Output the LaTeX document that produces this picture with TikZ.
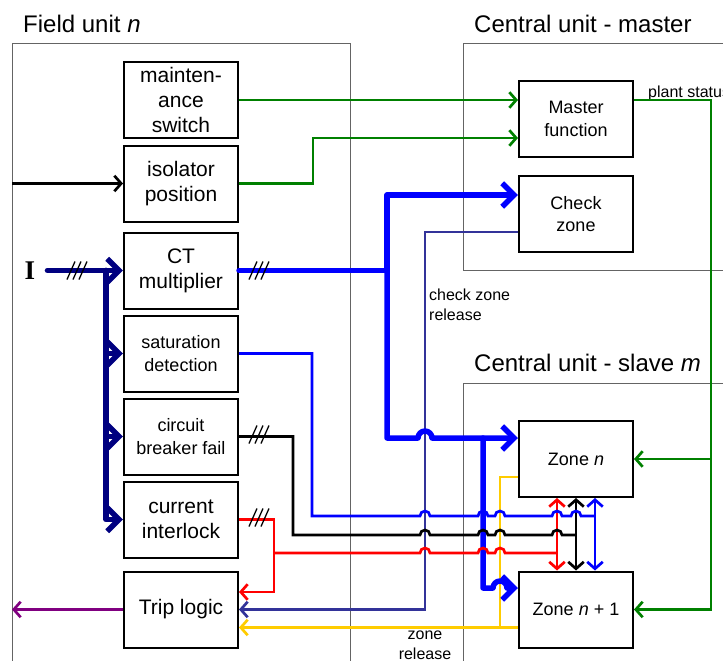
\documentclass[tikz,border=0pt]{standalone}
\usepackage{fontspec}
\setmainfont{Liberation Sans}
\newfontfamily\serifbold{Liberation Serif}
\usetikzlibrary{arrows.meta,calc}
\definecolor{grn}{RGB}{0,128,0}
\definecolor{blu}{RGB}{0,0,255}
\definecolor{nvy}{RGB}{0,0,128}
\definecolor{czr}{RGB}{51,51,153}
\definecolor{yel}{RGB}{255,204,0}
\definecolor{prp}{RGB}{128,0,128}
\definecolor{framegray}{RGB}{100,100,100}
\newcommand{\hop}[2]{-- ($(#2)+(-#1,0)$) arc[start angle=180,end angle=0,radius=#1pt]}

\begin{document}
\begin{tikzpicture}[x=1pt,y=-1pt,>={Straight Barb[length=2pt 1.8,width=8pt 2.8]},
  box/.style={draw,line width=2pt,minimum width=114pt,minimum height=76pt,inner sep=0pt,align=center,font=\fontsize{21}{25}\selectfont},
  smallbox/.style={box,font=\fontsize{18}{22.5}\selectfont},
  unitframe/.style={draw=framegray,line width=1pt},
  unittitle/.style={font=\fontsize{24}{28}\selectfont,inner sep=0pt,anchor=base west},
  lbl/.style={font=\fontsize{16}{20}\selectfont,inner sep=0pt,align=left},
  sig/.style={line width=2.7pt},
  fat/.style={line width=5.5pt,line cap=round,line join=round},
  bundle/.pic={\foreach \d in {-6,0,6} \draw[line width=1.3pt] (\d-4,9) -- (\d+4,-9);}]
\useasboundingbox (0,0) rectangle (723,661);
\draw[unitframe] (12,661) |- (350,44) -- (350,661);
\draw[unitframe] (723,44) -| (463,270) -- (723,270);
\draw[unitframe] (723,383) -| (463,661);
\node[unittitle] (tfield) at (23,33) {Field unit \textit{n}};
\node[unittitle] (tmaster) at (474,33) {Central unit - master};
\node[unittitle] (tslave) at (474,371) {Central unit - slave \textit{m}};

\node[box] (ms) at (181,100) {mainten-\\ance\\switch};
\node[box] (ip) at (181,183.5) {isolator\\position};
\node[box] (ct) at (181,270.5) {CT\\multiplier};
\node[smallbox] (sat) at (181,353.5) {saturation\\detection};
\node[smallbox] (cb) at (181,436.5) {circuit\\breaker fail};
\node[box] (il) at (181,519.5) {current\\interlock};
\node[box] (tl) at (181,609.5) {Trip logic};
\node[smallbox] (mf) at (576,119) {Master\\function};
\node[smallbox] (cz) at (576,214) {Check\\zone};
\node[smallbox] (zn) at (576,459) {Zone \textit{n}};
\node[smallbox] (zn1) at (576,609.5) {Zone \textit{n} + 1};
\node[font=\serifbold\bfseries\fontsize{27}{27}\selectfont,inner sep=0pt] (I) at (30,270.5) {I};
\node[lbl,anchor=base west] (ps) at (648,97) {plant status};
\node[lbl,anchor=north west] (czl) at (429,289) {check zone\\release};
\node[lbl,anchor=north,align=center] (zrl) at (425,631) {zone\\release};

\coordinate (xl) at (12,0);
\coordinate (xn) at (106,0);
\coordinate (xbt) at (387,0);
\coordinate (xcz) at (425,0);
\coordinate (xbl) at (483,0);
\coordinate (xye) at (500,0);
\coordinate (xrd) at (557,0);
\coordinate (xbk) at (576,0);
\coordinate (xbu) at (595,0);
\coordinate (xgr) at (711,0);
\coordinate (ysat) at (312,516);
\coordinate (ycb) at (293,535);
\coordinate (yil) at (274,553);
\coordinate (czin) at ($(cz.west)+(0,-19)$);
\coordinate (znin) at ($(zn.west)+(0,-21)$);
\coordinate (zn1in) at ($(zn1.west)+(0,-21.5)$);
\coordinate (znout) at ($(zn.west)+(0,18)$);
\coordinate (zn1out) at ($(zn1.west)+(0,18)$);
\coordinate (tlr) at ($(tl.east)+(0,-17.5)$);

\draw[grn,sig,->] (ms.east) -- (mf.west |- ms.east);
\draw[grn,sig,->] (ip.east) -- ++(74,0) |- ($(mf.west)+(0,19)$);
\draw[grn,sig,->] ($(mf.east)+(0,-19)$) -| (xgr |- zn.east) -- (zn.east);
\draw[grn,sig,->] (xgr |- zn.east) |- (zn1.east);
\draw[sig,->] (xl |- ip.west) -- (ip.west);
\draw[prp,sig,->] (tl.west) -- (xl |- tl.west);

\draw[nvy,fat,->] ([xshift=12pt]I.east) -- (ct.west);
\foreach \b in {sat,cb,il} \draw[nvy,fat,->] (xn |- ct.west) |- (\b.west);
\draw[czr,sig,->] ($(cz.west)+(0,18)$) -| (xcz |- tl.east) -- (tl.east);
\draw[yel,sig] (znout) -| (xye |- zn1out);
\draw[yel,sig,->] (zn1out) -- (tl.east |- zn1out);
\foreach \c/\x in {red/xrd,black/xbk,blu/xbu} \draw[\c,sig,<->] (zn.south -| \x) -- (zn1.north -| \x);

\draw[blu,fat,->] (ct.east) -| (xbt |- czin) -- (czin);
\draw[blu,fat,->] (xbt |- ct.east) -- (xbt |- znin) \hop{7}{xcz |- znin} -- (znin);
\draw[blu,fat,->] (xbl |- znin) -- (xbl |- zn1in) \hop{7}{xye |- zn1in} -- (zn1in);

\draw[red,sig,->] (il.east) -| (yil |- tlr) -- (tlr);
\draw[red,sig] (yil) \hop{5}{xcz |- yil} \hop{5}{xbl |- yil} \hop{5}{xye |- yil} -- (xrd |- yil);
\draw[sig] (cb.east) -| (ycb) \hop{5}{xcz |- ycb} \hop{5}{xbl |- ycb} \hop{5}{xye |- ycb} \hop{5}{xrd |- ycb} -- (xbk |- ycb);
\draw[blu,sig] (sat.east) -| (ysat) \hop{5}{xcz |- ysat} \hop{5}{xbl |- ysat} \hop{5}{xye |- ysat} \hop{5}{xrd |- ysat} \hop{5}{xbk |- ysat} -- (xbu |- ysat);

\pic at (77,270.5) {bundle};
\pic at ($(ct.east)+(20,0)$) {bundle};
\pic at ($(cb.east)+(20,-2)$) {bundle};
\pic at ($(il.east)+(20,-2)$) {bundle};
\end{tikzpicture}
\end{document}
